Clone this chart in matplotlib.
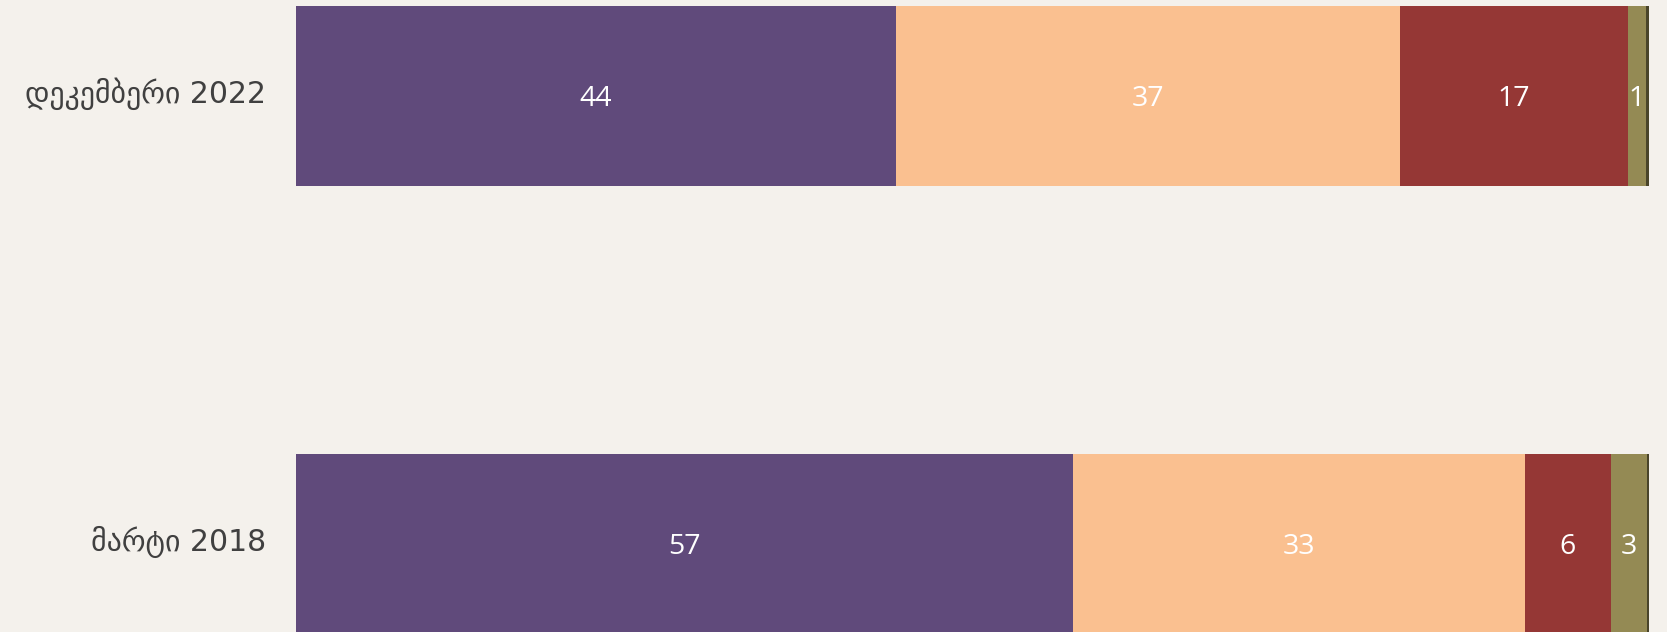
import numpy as np
import matplotlib
matplotlib.use('Agg')
import matplotlib.pyplot as plt

# rows, top row first
categories = ['დეკემბერი 2022', 'მარტი 2018']
s1 = [44.35, 57.45]
s2 = [37.25, 33.38]
s3 = [16.85, 6.33]
s4 = [1.31, 2.66]
s5 = [0.24, 0.17]
labels1 = ['44', '57']
labels2 = ['37', '33']
labels3 = ['17', '6']
labels4 = ['1', '3']

colours = ['#604A7B', '#FAC090', '#953735', '#948A54', '#4A452A']
bg = '#F4F1EC'

fig = plt.figure(figsize=(16.67, 6.32), dpi=100, facecolor=bg)
ax = fig.add_axes([296/1667, 0, (1649-296)/1667, 1])
ax.set_facecolor(bg)

ypos = np.array([1, 0])
series = [s1, s2, s3, s4, s5]
texts = [labels1, labels2, labels3, labels4, None]
left = np.zeros(2)
for vals, col, lab in zip(series, colours, texts):
    vals = np.array(vals)
    ax.barh(ypos, vals, left=left, height=0.402, color=col, edgecolor='none')
    if lab is not None:
        for y, l, v, t in zip(ypos, left, vals, lab):
            ax.text(l + v/2, y - 0.006, t, ha='center', va='center', color='white',
                    fontsize=20.5, family='Open Sans')
    left = left + vals

ax.set_xlim(0, 100)
ax.set_ylim(-0.1964, 1.2143)
ax.axis('off')

for y, c in zip(ypos, categories):
    ax.text(-30/13.53, y + 0.004, c, ha='right', va='center', color='#404040',
            fontsize=21.5, family='DejaVu Sans')

fig.savefig('out.png', dpi=100, facecolor=bg)
